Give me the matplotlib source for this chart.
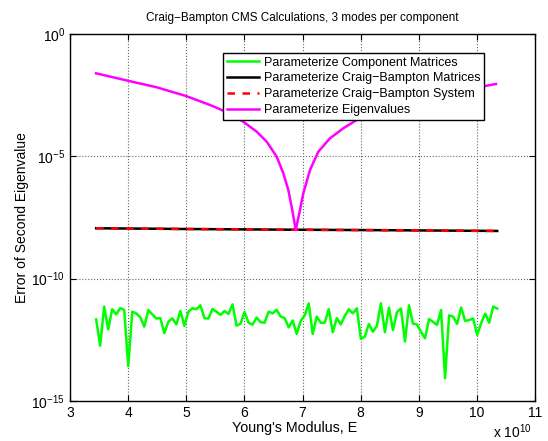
import numpy as np
import matplotlib
matplotlib.use('Agg')
import matplotlib.pyplot as plt

# -------- Style --------
plt.rcParams['font.family'] = ['Liberation Sans', 'DejaVu Sans']
plt.rcParams['mathtext.fontset'] = 'custom'
plt.rcParams['mathtext.rm'] = 'Liberation Sans'
plt.rcParams['mathtext.it'] = 'Liberation Sans:italic'
plt.rcParams['font.size'] = 9.5

# -------- Data (E in units of 1e10, errors stored as log10) --------
E_START, E_END = 3.45, 10.35

# Parameterize Component Matrices (log10 of error)
comp_log = [
    -11.66, -12.74, -11.14, -12.07, -11.25, -11.46, -11.20, -11.28, -13.57, -11.35,
    -11.42, -11.58, -11.96, -11.28, -11.46, -11.63, -11.61, -12.23, -11.76, -11.62,
    -11.87, -11.32, -11.93, -11.35, -11.21, -11.25, -11.09, -11.62, -11.63, -11.24,
    -11.35, -11.48, -11.32, -11.44, -11.05, -11.92, -11.84, -11.36, -11.80, -11.88,
    -11.59, -11.78, -11.80, -11.35, -11.42, -11.27, -11.55, -11.61, -11.99, -11.71,
    -12.26, -11.73, -11.50, -11.01, -12.26, -11.55, -11.80, -11.80, -11.25, -12.19,
    -11.61, -11.87, -11.52, -11.25, -11.42, -11.21, -12.46, -12.37, -11.85, -12.17,
    -11.93, -11.01, -12.19, -11.18, -12.10, -11.37, -11.22, -12.57, -11.09, -11.84,
    -11.87, -12.17, -12.44, -11.65, -11.77, -11.89, -11.28, -14.07, -11.50, -11.55,
    -11.85, -11.18, -11.73, -11.69, -11.63, -12.30, -11.82, -11.43, -11.80, -11.14,
    -11.22,
]

# Parameterize Craig-Bampton Matrices / System
cb_E = [3.45, 5.0, 6.9, 8.5, 10.35]
cb_mat_log = [-7.94, -7.97, -8.00, -8.02, -8.05]
cb_sys_log = [-7.94, -7.97, -8.00, -8.02, -8.05]

# Parameterize Eigenvalues
eig_E = [3.447, 3.993, 4.492, 4.996, 5.409, 5.637, 5.981, 6.212, 6.384, 6.556,
         6.670, 6.756, 6.824, 6.883, 6.945, 7.014, 7.129, 7.272, 7.473, 7.702,
         7.932, 8.677, 9.366, 10.140, 10.329]
eig_log = [-1.606, -1.908, -2.178, -2.534, -2.902, -3.134, -3.584, -3.993, -4.401, -5.014,
           -5.693, -6.375, -7.193, -8.010, -7.327, -6.510, -5.558, -4.810, -4.262, -3.854,
           -3.514, -2.900, -2.490, -2.125, -2.043]

labels = ['Parameterize Component Matrices',
          'Parameterize Craig\u2212Bampton Matrices',
          'Parameterize Craig\u2212Bampton System',
          'Parameterize Eigenvalues']

comp_E = np.linspace(E_START, E_END, len(comp_log))

# -------- Plot --------
fig = plt.figure(figsize=(5.48, 4.41), dpi=100)
ax = fig.add_axes([70 / 548, 1 - 401 / 441, 465 / 548, 367 / 441])

ax.semilogy(comp_E, 10.0 ** np.array(comp_log), color=(0, 1, 0), lw=1.8, label=labels[0])
ax.semilogy(cb_E, 10.0 ** np.array(cb_mat_log), color='k', lw=1.8, label=labels[1])
ax.semilogy(cb_E, 10.0 ** np.array(cb_sys_log), color='r', lw=1.8, ls=(0, (3, 3)), label=labels[2])
ax.semilogy(eig_E, 10.0 ** np.array(eig_log), color=(1, 0, 1), lw=1.8, label=labels[3])

ax.set_xlim(3, 11)
ax.set_ylim(1e-15, 1e0)
ax.set_xticks(range(3, 12))
ax.set_yticks([1e-15, 1e-10, 1e-5, 1e0])
ax.set_yticklabels([r'$10^{-15}$', r'$10^{-10}$', r'$10^{-5}$', r'$10^{0}$'])
ax.yaxis.set_minor_locator(matplotlib.ticker.NullLocator())
ax.tick_params(direction='in', top=True, right=True, length=4, width=0.8, labelsize=10)
ax.grid(True, linestyle=':', color='#666666', linewidth=0.8)
for s in ax.spines.values():
    s.set_linewidth(1.0)

ax.set_title('Craig\u2212Bampton CMS Calculations, 3 modes per component', fontsize=8.5, pad=9)
ax.set_xlabel("Young's Modulus, E", fontsize=10.3, labelpad=1)
ax.xaxis.set_label_coords((295 - 70) / 465, -0.055)
ax.set_ylabel('Error of Second Eigenvalue', fontsize=10, labelpad=2)
fig.text(512 / 548, 1 - 432 / 441, r'x $10^{10}$', ha='center', va='center', fontsize=10)

leg = ax.legend(loc='upper right', bbox_to_anchor=((484 - 70) / 465, 1 - (53 - 34) / 367),
                borderaxespad=0, fancybox=False, framealpha=1, edgecolor='k',
                handlelength=2.6, handletextpad=0.35, labelspacing=0.3, borderpad=0.3,
                fontsize=9)
leg.get_frame().set_linewidth(1.0)

fig.savefig('out.png', dpi=100)
